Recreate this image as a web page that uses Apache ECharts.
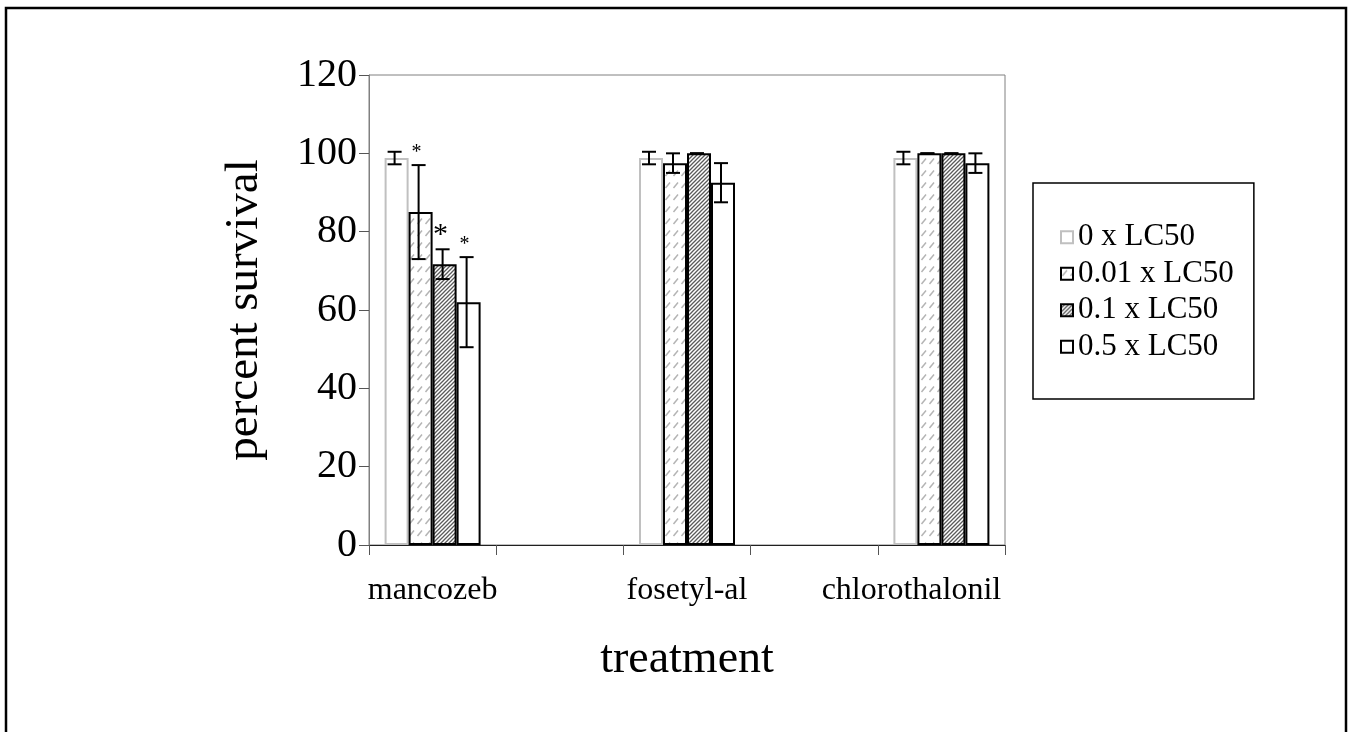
<!DOCTYPE html>
<html><head><meta charset="utf-8">
<script src="https://cdn.jsdelivr.net/npm/echarts@6/dist/echarts.min.js"></script>
<style>html,body{margin:0;padding:0;background:#fff}#c{width:1351px;height:732px}</style>
</head><body><div id="c"></div>
<script>
// ---- data ----
const categories = ['mancozeb', '', 'fosetyl-al', '', 'chlorothalonil'];
const seriesNames = ['0 x LC50', '0.01 x LC50', '0.1 x LC50', '0.5 x LC50'];
const vals0   = [98.8, null, 98.8, null, 98.8];
const vals001 = [85,   null, 97.5, null, 100];
const vals01  = [71.7, null, 100,  null, 100];
const vals05  = [62,   null, 92.5, null, 97.5];
const err0    = [1.6,  null, 1.6,  null, 1.6];
const err001  = [12,   null, 2.5,  null, 0];
const err01   = [3.8,  null, 0,    null, 0];
const err05   = [11.5, null, 5,    null, 2.5];
const sig0    = ['',  '', '', '', ''];
const sig001  = ['*', '', '', '', ''];
const sig01   = ['*', '', '', '', ''];
const sig05   = ['*', '', '', '', ''];
const yMin = 0, yMax = 120, yStep = 20;

// ---- styles ----
const FONT = "'Liberation Serif', 'Times New Roman', serif";
const BAR_W = 24;
function lightPattern() {
  const c = document.createElement('canvas'); c.width = 8; c.height = 12;
  const g = c.getContext('2d');
  g.fillStyle = '#fff'; g.fillRect(0, 0, 8, 12);
  g.strokeStyle = '#b4b4b4'; g.lineWidth = 1.5;
  g.beginPath(); g.moveTo(1.5, 8); g.lineTo(6, 2.5); g.stroke();
  return c;
}
function darkPattern() {
  const c = document.createElement('canvas'); c.width = 4; c.height = 4;
  const g = c.getContext('2d');
  g.fillStyle = '#fff'; g.fillRect(0, 0, 4, 4);
  g.strokeStyle = '#5a5a5a'; g.lineWidth = 1.3;
  g.beginPath();
  g.moveTo(0, 4); g.lineTo(4, 0);
  g.moveTo(-1, 1); g.lineTo(1, -1);
  g.moveTo(3, 5); g.lineTo(5, 3);
  g.stroke();
  return c;
}
const fills = ['#ffffff', {image: lightPattern(), repeat: 'repeat'}, {image: darkPattern(), repeat: 'repeat'}, '#ffffff'];
const borders = ['#c0c0c0', '#000', '#000', '#000'];
const sigSizes = [20, 20, 30, 20];

const valueSets = [vals0, vals001, vals01, vals05];
const errSets = [err0, err001, err01, err05];
const sigSets = [sig0, sig001, sig01, sig05];

const chart = echarts.init(document.getElementById('c'));

const barSeries = seriesNames.map((name, i) => ({
  type: 'bar', name, data: valueSets[i], barWidth: BAR_W, barGap: '0%',
  itemStyle: {color: fills[i], borderColor: borders[i], borderWidth: 2},
  emphasis: {disabled: true}, z: 2
}));

const errSeries = seriesNames.map((name, i) => ({
  type: 'custom', name: name + ' err',
  data: valueSets[i].map((v, k) => v == null ? null : [k, v, errSets[i][k]]).filter(d => d),
  encode: {x: 0, y: 1},
  z: 5, silent: true,
  renderItem: function (params, api) {
    const k = api.value(0), v = api.value(1), e = api.value(2);
    const sig = sigSets[i][k];
    const off = (i - 1.5) * BAR_W - 2;
    const top = api.coord([k, v + e]);
    const bot = api.coord([k, v - e]);
    const x = top[0] + off;
    const cap = 7;
    const st = {stroke: '#000', lineWidth: 2};
    const children = [
      {type: 'line', shape: {x1: x, y1: top[1], x2: x, y2: bot[1]}, style: st},
      {type: 'line', shape: {x1: x - cap, y1: top[1], x2: x + cap, y2: top[1]}, style: st},
      {type: 'line', shape: {x1: x - cap, y1: bot[1], x2: x + cap, y2: bot[1]}, style: st}
    ];
    if (sig) {
      children.push({type: 'text', style: {text: sig, x: x - 2, y: top[1] + sigSizes[i] * 0.25 - 7, fill: '#000',
        font: sigSizes[i] + 'px ' + FONT, textAlign: 'center', textVerticalAlign: 'bottom'}});
    }
    return {type: 'group', children};
  }
}));

chart.setOption({
  animation: false,
  backgroundColor: '#fff',
  graphic: [{type: 'rect', shape: {x: 6, y: 8, width: 1340, height: 760}, style: {fill: 'none', stroke: '#000', lineWidth: 2.5}, z: 0, silent: true}],
  grid: {left: 369, right: 346, top: 75, bottom: 187, show: true, borderColor: '#808080', borderWidth: 1, backgroundColor: 'transparent'},
  legend: {
    orient: 'vertical', left: 1033, top: 183, data: seriesNames, icon: 'rect',
    itemWidth: 12, itemHeight: 12, itemGap: 0, padding: [36, 20, 34, 27],
    borderColor: '#000', borderWidth: 1.5, selectedMode: false,
    textStyle: {fontFamily: FONT, fontSize: 31, color: '#000', lineHeight: 36.5}
  },
  xAxis: {
    type: 'category', data: categories,
    name: 'treatment', nameLocation: 'middle', nameGap: 92,
    nameTextStyle: {fontFamily: FONT, fontSize: 46, color: '#000'},
    axisLine: {lineStyle: {color: '#202020', width: 1}},
    axisTick: {show: true, length: 10, lineStyle: {color: '#555'}},
    axisLabel: {
      fontFamily: FONT, fontSize: 32, color: '#000', margin: 30, interval: 0,
      formatter: v => v === categories[categories.length - 1] ? '{last|' + v + '}' : v,
      rich: {last: {fontFamily: FONT, fontSize: 32, color: '#000', padding: [0, 60, 0, 0]}}
    }
  },
  yAxis: {
    type: 'value', min: yMin, max: yMax, interval: yStep,
    name: 'percent survival', nameLocation: 'middle', nameGap: 101,
    nameTextStyle: {fontFamily: FONT, fontSize: 47, color: '#000'},
    axisLine: {show: true, lineStyle: {color: '#808080', width: 1}},
    axisTick: {show: true, length: 10, lineStyle: {color: '#555'}},
    axisLabel: {fontFamily: FONT, fontSize: 40, color: '#000', margin: 12},
    splitLine: {show: false}
  },
  series: barSeries.concat(errSeries)
});
</script></body></html>
